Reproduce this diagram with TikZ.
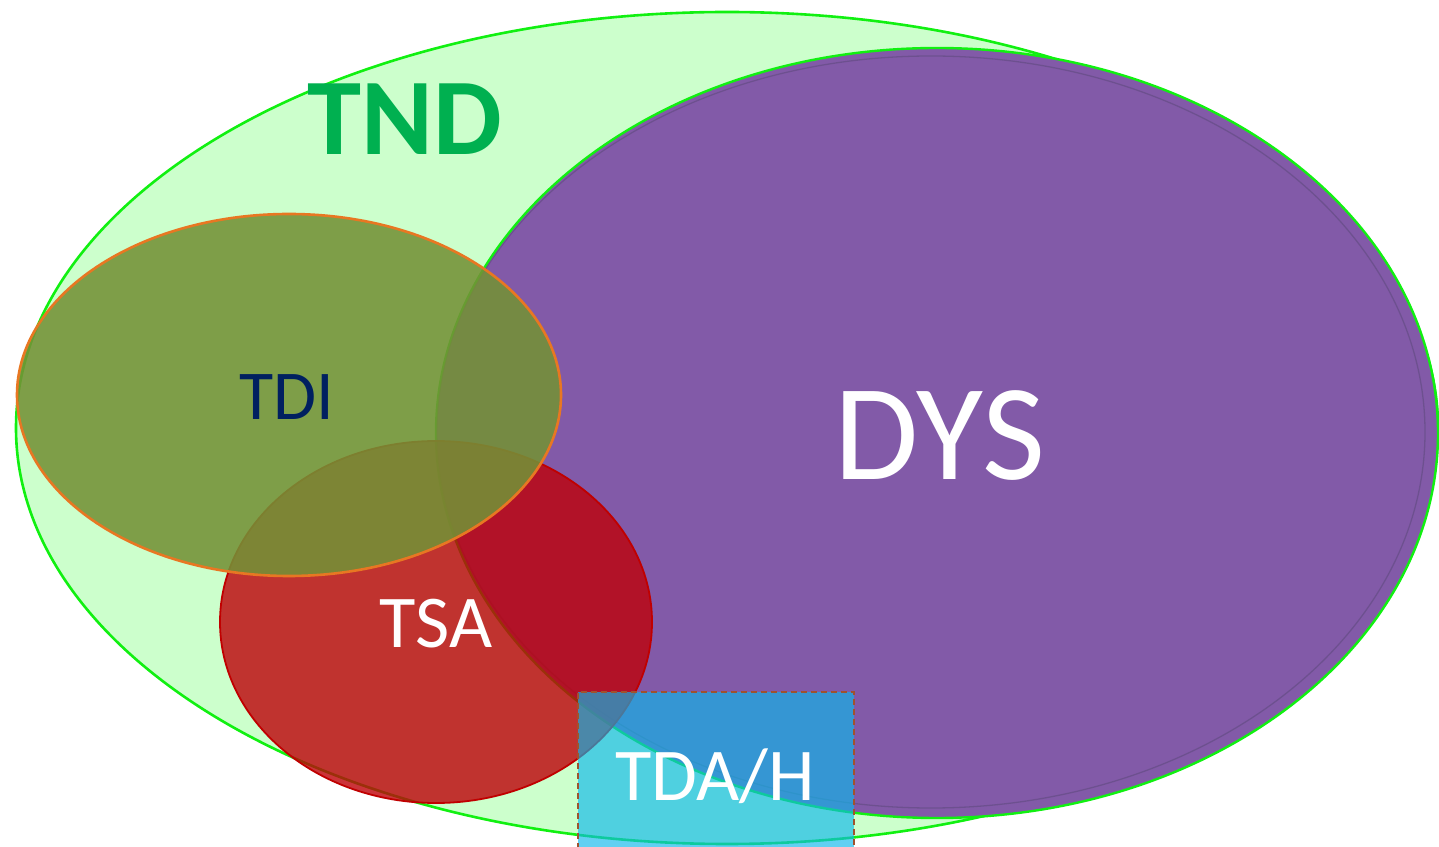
\documentclass[tikz,border=0pt]{standalone}
\usepackage{fontspec}
\setmainfont{Carlito}
\definecolor{tndfill}{HTML}{CCFFCC}
\definecolor{tndline}{HTML}{11F011}
\definecolor{tndtext}{HTML}{00B050}
\definecolor{dysfill}{HTML}{825AA8}
\definecolor{dysshade}{HTML}{5A4878}
\definecolor{tdifill}{RGB}{116,145,54}
\definecolor{tdiline}{HTML}{E87722}
\definecolor{tditext}{HTML}{002060}
\definecolor{tsafill}{RGB}{190,0,8}
\definecolor{tsaline}{HTML}{C00000}
\definecolor{tdafill}{RGB}{13,183,235}
\definecolor{tdaline}{HTML}{A0522D}
\tikzset{
  label text/.style={inner sep=0pt, anchor=base},
}
\begin{document}
\begin{tikzpicture}[x=1pt,y=1pt]
\useasboundingbox (0,0) rectangle (1439,846);
\clip (0,0) rectangle (1439,846);
% TND
\fill[tndfill] (727,418) ellipse [x radius=711, y radius=416];
\draw[tndline, line width=2.6pt] (727,418) ellipse [x radius=711, y radius=416];
% DYS
\fill[dysfill] (937,413) ellipse [x radius=501, y radius=385];
\draw[tndline, line width=2.4pt] (937,413) ellipse [x radius=501, y radius=385];
\draw[dysshade, opacity=0.5, line width=1.3pt] (931,414) ellipse [x radius=494, y radius=376];
% TSA
\fill[tsafill, fill opacity=0.8] (436,224) ellipse [x radius=216, y radius=181];
\draw[tsaline, line width=1.8pt] (436,224) ellipse [x radius=216, y radius=181];
% TDI
\fill[tdifill, fill opacity=0.88] (289,451) ellipse [x radius=272, y radius=181];
\draw[tdiline, line width=2.6pt] (289,451) ellipse [x radius=272, y radius=181];
% TDA/H
\fill[tdafill, fill opacity=0.65] (578,-3) rectangle (854,154);
\draw[tdaline, line width=1.6pt, dash pattern=on 6pt off 4pt] (578,-3) rectangle (854,154);
% labels
\node[label text, text=tndtext, font=\bfseries\fontsize{109}{120}\selectfont] (tnd) at (405,691) {TND};
\node[label text, text=white, font=\fontsize{137}{150}\selectfont] (dys) at (940,366) {DYS};
\node[label text, text=tditext, font=\fontsize{70}{80}\selectfont] (tdi) at (287,426) {TDI};
\node[label text, text=white, font=\fontsize{74.5}{80}\selectfont] (tsa) at (436,198) {TSA};
\node[label text, text=white, font=\fontsize{74.5}{80}\selectfont] (tda) at (715,46) {TDA/H};
\end{tikzpicture}
\end{document}
